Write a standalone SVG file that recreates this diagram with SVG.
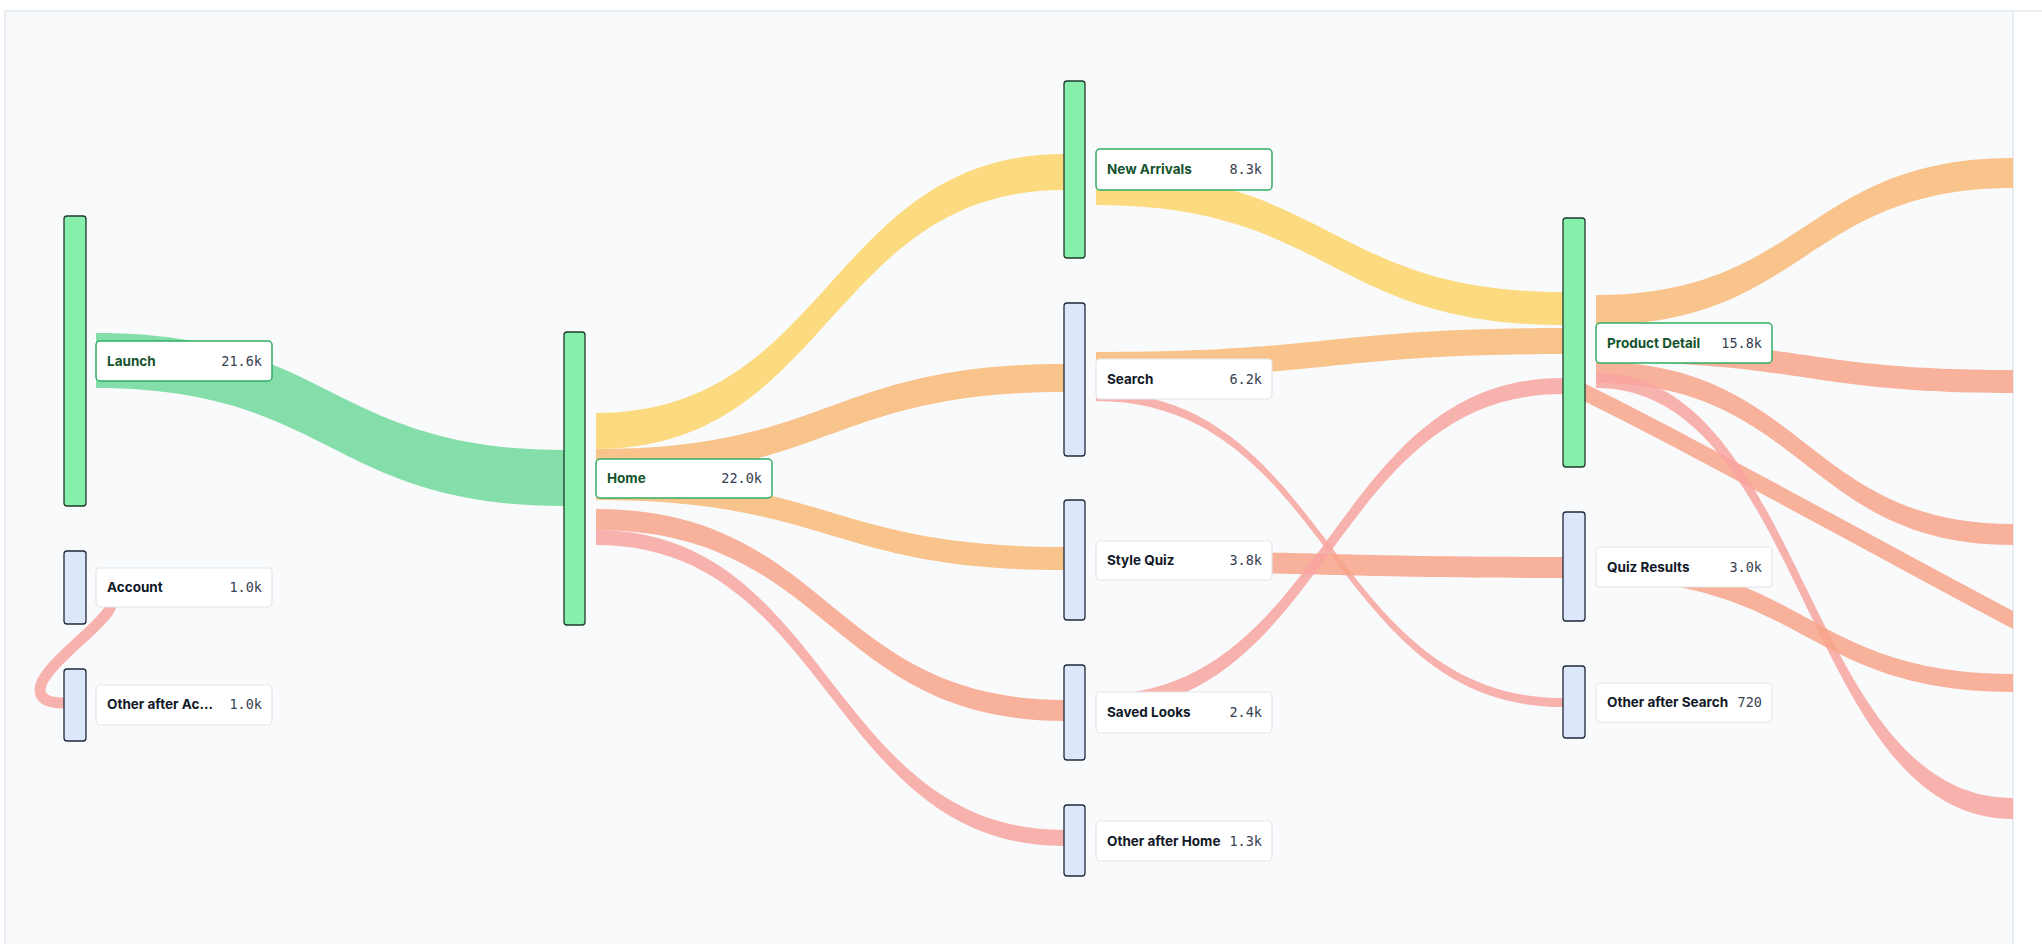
<svg xmlns="http://www.w3.org/2000/svg" width="2042" height="944" viewBox="0 0 2042 944">
<style>
.bar-g{fill:#86efac;stroke:#1e3a2a;stroke-width:1.3}
.bar-b{fill:#dce7fb;stroke:#1f2937;stroke-width:1.3}
.lab{fill:#fff;stroke:#e2e5ea;stroke-width:1.2}
.lab-g{fill:#fff;stroke:#2fae63;stroke-width:1.5}
.nm{font-family:Inter,"Liberation Sans",sans-serif;font-size:13.5px;font-weight:700;fill:#111827}
.nm-g{font-family:Inter,"Liberation Sans",sans-serif;font-size:13.5px;font-weight:700;fill:#14532d}
.val{font-family:"DejaVu Sans Mono","Liberation Mono",monospace;font-size:13.5px;fill:#374151;text-anchor:end}
#connectors path{opacity:0.85}
.green{fill:#6fd89a}
.yellow{fill:#fdd56a}
.orange{fill:#f9b878}
.salmon{fill:#f8a388}
.pink{fill:#f8a4a0}
</style>
<defs><clipPath id="c"><rect x="5" y="11" width="2008" height="933"/></clipPath></defs>
<rect width="2042" height="944" fill="#fff"/>
<rect x="5" y="11" width="2008" height="933" fill="#f9fafb"/>
<line x1="5" y1="11" x2="2042" y2="11" stroke="#e2e8f0" stroke-width="1.5"/>
<line x1="5" y1="11" x2="5" y2="944" stroke="#e2e8f0" stroke-width="1.5"/>
<line x1="2013" y1="11" x2="2013" y2="944" stroke="#e2e8f0" stroke-width="1.5"/>
<g id="connectors" clip-path="url(#c)">
<path class="green" d="M96,333 C330,333 330,450 564,450 L564,506 C330,506 330,388 96,388 Z"/>
<path class="yellow" d="M596,413 C830,413 830,154 1064,154 L1064,190 C830,190 830,449 596,449 Z"/>
<path class="orange" d="M596,449 C830,449 830,364 1064,364 L1064,392 C830,392 830,477 596,477 Z"/>
<path class="orange" d="M596,477 C830,477 830,547 1064,547 L1064,570 C830,570 830,500 596,500 Z"/>
<path class="salmon" d="M596,509 C830,509 830,700 1064,700 L1064,721 C830,721 830,530 596,530 Z"/>
<path class="pink" d="M596,530 C830,530 830,830 1064,830 L1064,846 C830,846 830,545 596,545 Z"/>
<path class="yellow" d="M1096,172 C1330,172 1330,292 1563,292 L1563,325 C1330,325 1330,205 1096,205 Z"/>
<path class="orange" d="M1096,352 C1330,352 1330,328 1563,328 L1563,354 C1330,354 1330,378 1096,378 Z"/>
<path class="pink" d="M1096,392 C1330,392 1330,698 1563,698 L1563,707 C1330,707 1330,401 1096,401 Z"/>
<path class="salmon" d="M1096,551 C1330,551 1330,557 1563,557 L1563,578 C1330,578 1330,572 1096,572 Z"/>
<path class="pink" d="M1096,695 C1330,695 1330,378 1563,378 L1563,394 C1330,394 1330,711 1096,711 Z"/>
<path class="orange" d="M1596,295 C1805,295 1805,158 2013,158 L2013,188 C1805,188 1805,325 1596,325 Z"/>
<path class="salmon" d="M1596,340 C1805,340 1805,370 2013,370 L2013,393 C1805,393 1805,362 1596,362 Z"/>
<path class="salmon" d="M1596,362 C1805,362 1805,524 2013,524 L2013,545 C1805,545 1805,383 1596,383 Z"/>
<path class="salmon" d="M1570,376 C1700,440 1860,530 2013,611 L2013,629 C1860,548 1700,458 1570,394 Z"/>
<path class="pink" d="M1596,373 C1805,373 1805,798 2013,798 L2013,819 C1805,819 1805,388 1596,388 Z"/>
<path class="salmon" d="M1596,560 C1805,560 1805,674 2013,674 L2013,692 C1805,692 1805,580 1596,580 Z"/>
<path d="M96,598 C150,598 40,660 40,690 C40,700 50,703 64,703" fill="none" stroke="#f8a4a0" stroke-width="11"/>
</g>
<g id="launch"><rect class="bar-g" x="64" y="216" width="22" height="290" rx="3"/><rect class="lab-g" x="96" y="341" width="176" height="40" rx="4"/><text class="nm-g" x="107" y="366">Launch</text><text class="val" x="262" y="366">21.6k</text></g>
<g id="account"><rect class="bar-b" x="64" y="551" width="22" height="73" rx="3"/><rect class="lab" x="96" y="568" width="176" height="39" rx="4"/><text class="nm" x="107" y="592">Account</text><text class="val" x="262" y="592">1.0k</text></g>
<g id="other-after-account"><rect class="bar-b" x="64" y="669" width="22" height="72" rx="3"/><rect class="lab" x="96" y="685" width="176" height="40" rx="4"/><text class="nm" x="107" y="709">Other after Ac...</text><text class="val" x="262" y="709">1.0k</text></g>
<g id="home"><rect class="bar-g" x="564" y="332" width="21" height="293" rx="3"/><rect class="lab-g" x="596" y="459" width="176" height="39" rx="4"/><text class="nm-g" x="607" y="483">Home</text><text class="val" x="762" y="483">22.0k</text></g>
<g id="new-arrivals"><rect class="bar-g" x="1064" y="81" width="21" height="177" rx="3"/><rect class="lab-g" x="1096" y="149" width="176" height="41" rx="4"/><text class="nm-g" x="1107" y="174">New Arrivals</text><text class="val" x="1262" y="174">8.3k</text></g>
<g id="search"><rect class="bar-b" x="1064" y="303" width="21" height="153" rx="3"/><rect class="lab" x="1096" y="359" width="176" height="40" rx="4"/><text class="nm" x="1107" y="384">Search</text><text class="val" x="1262" y="384">6.2k</text></g>
<g id="style-quiz"><rect class="bar-b" x="1064" y="500" width="21" height="120" rx="3"/><rect class="lab" x="1096" y="541" width="176" height="39" rx="4"/><text class="nm" x="1107" y="565">Style Quiz</text><text class="val" x="1262" y="565">3.8k</text></g>
<g id="saved-looks"><rect class="bar-b" x="1064" y="665" width="21" height="95" rx="3"/><rect class="lab" x="1096" y="692" width="176" height="41" rx="4"/><text class="nm" x="1107" y="717">Saved Looks</text><text class="val" x="1262" y="717">2.4k</text></g>
<g id="other-after-home"><rect class="bar-b" x="1064" y="805" width="21" height="71" rx="3"/><rect class="lab" x="1096" y="821" width="176" height="40" rx="4"/><text class="nm" x="1107" y="846">Other after Home</text><text class="val" x="1262" y="846">1.3k</text></g>
<g id="product-detail"><rect class="bar-g" x="1563" y="218" width="22" height="249" rx="3"/><rect class="lab-g" x="1596" y="323" width="176" height="40" rx="4"/><text class="nm-g" x="1607" y="348">Product Detail</text><text class="val" x="1762" y="348">15.8k</text></g>
<g id="quiz-results"><rect class="bar-b" x="1563" y="512" width="22" height="109" rx="3"/><rect class="lab" x="1596" y="547" width="176" height="40" rx="4"/><text class="nm" x="1607" y="572">Quiz Results</text><text class="val" x="1762" y="572">3.0k</text></g>
<g id="other-after-search"><rect class="bar-b" x="1563" y="666" width="22" height="72" rx="3"/><rect class="lab" x="1596" y="683" width="176" height="39" rx="4"/><text class="nm" x="1607" y="707">Other after Search</text><text class="val" x="1762" y="707">720</text></g>
</svg>
